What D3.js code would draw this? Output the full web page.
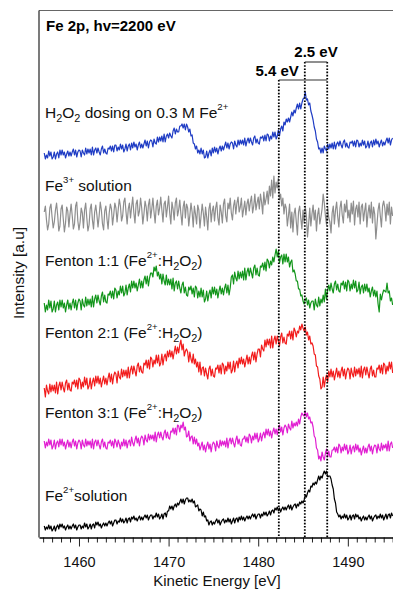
<!DOCTYPE html>
<html>
<head>
<meta charset="utf-8">
<script src="https://cdn.jsdelivr.net/npm/d3@7"></script>
<style>
  html, body { margin: 0; padding: 0; background: #fff; }
  svg { display: block; }
  text { font-family: Arial, "Liberation Sans", Helvetica, sans-serif; white-space: pre; }
</style>
</head>
<body>
<svg id="chart" width="393" height="589"></svg>
<script>
// Fe 2p spectra, kinetic-energy grid (eV), sampled every 0.125 eV from 1456.125 to 1495.0
const energyStart = 1456.125;
const energyStep = 0.125;

// Intensities (a.u.) of each trace, relative to its own stacking offset (8 samples per eV)
const seriesH2O2 = [
  3,-3,1,-2,5,0,4,-3, -1,4,-3,2,4,-2,6,1, 6,1,4,-2,2,5,0,4, 0,4,7,1,6,-1,4,6,
  5,-1,6,3,1,8,2,7, 3,7,1,9,1,6,8,3, 8,4,1,7,10,3,7,3, 2,8,7,10,5,10,4,11,
  11,5,9,6,12,7,11,4, 7,12,5,10,12,6,13,8, 14,9,12,6,11,14,8,12, 8,12,16,10,15,8,14,16,
  15,9,17,13,12,19,14,19, 15,20,14,22,14,20,22,18, 23,20,18,25,28,22,27,24, 24,30,30,32,28,32,26,32,
  29,24,27,20,21,13,12,7, 10,3,6,2,8,2,6,-2, -1,5,-2,3,6,0,8,3, 9,4,8,2,7,10,5,10,
  6,10,14,8,13,7,12,14, 13,7,15,11,9,16,11,16, 12,16,11,18,10,15,18,13, 18,14,11,18,20,13,17,13,
  12,19,18,20,15,21,15,22, 21,15,20,17,24,19,24,17, 20,26,20,27,30,25,34,31, 37,34,38,34,39,44,40,46,
  43,48,52,47,53,47,53,57, 58,64,56,57,51,53,45,41, 36,29,25,17,14,7,8,3, 8,3,10,7,5,12,7,12,
  8,13,7,14,7,12,14,10, 15,11,8,14,16,9,13,9, 8,14,13,15,10,15,9,16, 15,9,13,10,16,11,15,8,
  10,15,8,13,15,9,16,11, 17,12,15,9,13,16,10,14, 11,15,18,13,18,11,16,18];

const seriesFe3 = [
  6,12,-2,-12,-6,10,14,1, -10,-4,8,15,3,-13,-8,9, 13,-1,-14,-5,11,7,-9,4, 14,2,-11,-6,12,16,-3,-12,
  -4,10,5,-10,8,15,0,-13, -7,9,14,-2,-11,6,13,3, -9,2,16,8,-6,-12,7,12, -1,-11,5,14,9,-7,3,15,
  10,-4,8,19,12,-3,2,16, 20,6,-6,9,15,0,11,21, 5,-5,14,18,2,7,20,10, -6,4,17,11,-3,13,19,0,
  9,20,6,-5,12,18,3,10, 21,8,-4,14,17,1,11,22, 5,-6,16,9,-2,15,20,2, 8,18,4,-7,11,17,0,14,
  10,-8,3,15,6,-9,12,4, -6,13,8,-10,2,14,5,-8, 11,1,-12,9,15,-4,7,12, -3,10,16,0,-7,13,6,-5,
  14,19,2,-4,15,9,20,5, -2,12,18,4,15,21,6,11, 20,1,9,17,3,14,19,7, 16,22,5,12,24,8,15,21,
  9,24,16,4,26,13,19,27, 14,32,22,38,20,42,25,36, 30,40,18,24,12,20,4,14, 10,-8,2,14,-10,6,-14,4,
  10,-4,-17,6,12,0,-11,8, -5,12,2,-19,-6,10,-8,4, 13,-2,8,-13,3,10,-6,1, 9,24,15,2,-7,11,0,-4,
  -15,5,12,-6,8,16,1,-9, 10,17,3,-5,14,6,18,0, 8,-4,15,4,17,-7,9,13, 1,16,-6,11,14,-3,7,15,
  -9,5,13,0,16,-5,11,4, -21,-7,8,15,2,-9,12,17, 10,-3,14,3,16,-6,11,2];

const seriesFenton11 = [
  3,-6,1,-4,6,-2,5,-6, -3,5,-6,1,4,-4,6,-1, 6,-2,3,-6,1,6,-3,3, -4,3,7,-2,6,-4,3,7,
  5,-4,7,1,-1,9,0,7, 1,7,-1,10,-1,7,11,3, 11,5,1,10,14,4,11,4, 3,12,11,15,8,15,7,18,
  16,8,15,11,20,13,20,10, 13,21,11,18,22,14,25,18, 25,18,23,15,21,27,18,25, 18,26,30,22,30,20,28,33,
  33,29,39,35,40,30,34,27, 32,22,32,25,21,31,21,27, 21,27,17,28,15,23,25,17, 25,18,13,21,24,13,19,11,
  10,19,16,20,12,18,9,20, 18,8,15,9,18,9,16,4, 7,15,5,12,16,8,19,12, 19,11,17,8,15,20,12,18,
  11,18,22,13,21,11,18,29, 31,22,34,28,25,35,27,34, 28,35,26,38,26,34,38,30, 38,33,28,38,41,31,38,31,
  30,40,39,43,36,44,35,47, 45,38,45,41,49,44,51,57, 49,55,43,49,51,42,52,44, 52,44,49,39,44,46,34,36,
  32,25,25,17,17,10,11,5, 2,6,8,1,6,-2,3,5, 5,-4,7,1,-1,9,0,7, 3,11,4,17,7,16,21,15,
  23,17,13,22,25,16,22,15, 14,23,21,25,17,24,15,26, 24,15,22,17,26,18,25,14, 16,24,12,19,21,13,22,15,
  22,14,18,9,15,19,10,16, 9,15,2,-6,12,6,12,16, 15,14,23,13,15,5,8,1];

const seriesFenton21 = [
  2,-7,5,-1,-4,6,-2,5, -1,5,-3,8,-4,4,8,0, 8,2,-2,7,10,0,7,0, -1,8,6,10,3,10,1,12,
  10,1,8,3,13,5,12,1, 4,12,1,8,12,4,14,7, 14,6,12,3,9,14,6,12, 5,12,17,8,16,6,14,18,
  16,7,19,13,11,21,13,20, 14,20,12,23,12,20,24,16, 24,19,14,24,27,18,24,18, 17,27,25,30,22,30,21,33,
  31,23,30,26,35,27,35,24, 27,36,25,33,36,29,39,33, 40,33,39,31,38,44,36,43, 37,45,50,40,46,34,39,41,
  38,28,38,31,27,36,26,31, 23,28,18,28,15,22,23,14, 22,16,11,21,24,14,21,14, 13,22,21,25,17,25,16,27,
  25,16,24,19,28,21,28,17, 20,29,18,26,29,22,32,26, 33,26,31,23,29,35,26,33, 26,34,38,30,38,28,36,41,
  41,33,45,41,39,50,43,51, 45,51,42,54,42,50,54,46, 54,49,44,53,57,47,53,47, 46,56,54,59,51,59,50,62,
  59,53,59,57,64,60,66,62, 59,63,55,58,50,54,46,47, 44,36,35,24,23,14,11,1, 3,13,3,11,15,8,19,13,
  21,13,19,10,16,22,13,19, 12,19,23,14,21,11,18,22, 20,11,22,16,13,23,14,21, 16,22,13,24,12,20,23,15,
  23,17,12,21,24,14,20,13, 13,22,21,25,17,25,16,27, 25,16,24,19,28,21,28,17];

const seriesFenton31 = [
  3,-4,2,-2,5,-1,4,-5, -2,4,-5,1,3,-3,5,-1, 5,-2,2,-5,0,4,-3,2, -4,2,5,-2,3,-5,1,4,
  2,-5,4,-1,-3,5,-2,3, -1,3,-4,5,-5,2,4,-2, 4,-1,-5,2,5,-3,2,-4, -5,2,1,4,-2,3,-4,5,
  2,-3,4,0,-5,2,-2,5, -2,4,-4,2,4,-2,7,1, -2,4,8,1,6,-2,5,8, 6,-1,9,4,2,10,4,9,
  5,9,3,12,2,9,12,6, 12,7,4,11,14,6,12,6, 5,13,12,16,10,16,9,19, 18,12,19,16,22,14,17,7,
  8,13,3,7,8,0,7,0, 5,-2,1,-6,-2,2,-6,-1, -8,-2,2,-5,0,-8,-1,2, 0,-7,3,-2,-4,4,-2,3,
  -1,3,-3,6,-4,3,6,0, 6,1,-3,4,8,0,5,-1, -2,5,5,8,2,7,1,10, 8,1,8,4,11,5,11,2,
  5,11,3,9,12,6,15,9, 15,8,13,6,12,16,10,15, 9,15,19,12,17,9,16,19, 17,11,20,16,14,23,16,21,
  18,22,18,25,20,27,31,29, 28,33,27,31,25,27,21,22, 17,8,6,-4,-6,-15,-12,-17, -8,-13,-16,-9,-5,-13,-7,-13,
  -13,-6,-6,-3,-8,-3,-9,0, -2,-9,-3,-7,0,-6,-1,-10, -7,-1,-10,-4,-2,-8,0,-6, -1,-8,-4,-11,-6,-2,-9,-4,
  -9,-3,0,-7,-2,-10,-4,-1, -2,-9,0,-5,-7,1,-6,-1, -4,0,-7,3,-7,0,2,-4];

const seriesFe2 = [
  2,-2,1,-1,3,-1,2,-3, -1,2,-3,1,3,-1,4,1, 4,0,2,-2,1,3,-1,2, -1,2,4,0,3,-2,1,3,
  3,-1,2,0,5,1,4,-1, 1,4,-1,3,4,0,6,3, 6,2,4,0,3,5,2,5, 2,5,7,4,7,2,5,8,
  8,4,7,6,10,6,9,5, 7,10,5,9,10,6,11,9, 12,8,10,7,10,12,8,11, 8,11,13,10,13,8,11,13,
  13,9,12,11,15,11,14,9, 11,14,9,14,15,11,17,17, 22,19,22,18,22,24,21,25, 23,26,29,25,29,24,28,30,
  30,26,28,26,29,25,27,21, 22,23,17,19,18,12,16,11, 12,7,8,3,6,7,3,6, 4,7,9,5,8,3,6,8,
  9,5,8,6,10,6,9,4, 7,10,5,9,10,6,11,8, 12,8,11,7,10,12,9,12, 9,12,14,11,14,9,12,14,
  14,10,14,12,16,13,16,12, 14,17,13,17,18,15,20,18, 21,17,20,16,19,21,18,21, 18,21,23,19,23,18,21,23,
  24,20,24,22,26,24,27,25, 28,33,31,35,38,36,42,41, 45,43,46,44,48,52,48,52, 50,54,57,54,57,51,52,52,
  49,43,39,29,25,16,14,11, 13,9,12,10,14,10,13,8, 10,13,8,12,13,9,14,11, 13,9,11,7,10,12,8,11,
  8,11,13,9,12,7,10,12, 13,9,12,10,14,10,13,8, 11,14,9,13,14,10,15,12];

// Stacking offsets (a.u.) and trace names, top to bottom
const traceOffsets = [381.5, 319.5, 231.5, 147.5, 93.5, 9.5];
const traceLabels = [
  "H_{2}O_{2} dosing on 0.3 M Fe^{2+}",
  "Fe^{3+} solution",
  "Fenton 1:1 (Fe^{2+}:H_{2}O_{2})",
  "Fenton 2:1 (Fe^{2+}:H_{2}O_{2})",
  "Fenton 3:1 (Fe^{2+}:H_{2}O_{2})",
  "Fe^{2+}solution"
];
const traces = [seriesH2O2, seriesFe3, seriesFenton11, seriesFenton21, seriesFenton31, seriesFe2];

// Reference peak of the Fe2+ solution and the two shifts marked on the plot (eV)
const fe2Peak = 1487.7;
const shifts = [2.5, 5.4];
const shiftLabels = ["2.5 eV", "5.4 eV"];

const majorTicks = [1460, 1470, 1480, 1490];
const minorTicks = d3.range(1456, 1496).filter(v => !majorTicks.includes(v));

// ---- layout ----
const colors = ["#1f3cc4", "#8e8e8e", "#12951a", "#f21c1c", "#e11fd2", "#000000"];
const labelBaselines = [118, 191, 266, 338, 418, 501];
const plot = { left: 39, right: 393, top: 10.5, bottom: 537.5 };

const svg = d3.select("#chart");
const x = d3.scaleLinear().domain([1455.54, 1495.04]).range([plot.left, plot.right]);
const y = d3.scaleLinear().domain([0, 527]).range([plot.bottom, plot.top]);

// frame: left spine and top edge
svg.append("line").attr("x1", plot.left).attr("x2", plot.right + 5)
  .attr("y1", plot.top).attr("y2", plot.top).attr("stroke", "#666").attr("stroke-width", 1.2);
svg.append("line").attr("x1", plot.left).attr("x2", plot.left)
  .attr("y1", plot.top).attr("y2", plot.bottom).attr("stroke", "#333").attr("stroke-width", 1.3);

// traces
traces.forEach((vals, k) => {
  const line = d3.line()
    .x((d, i) => x(energyStart + energyStep * i))
    .y(d => y(d + traceOffsets[k]));
  svg.append("path").datum(vals)
    .attr("d", line)
    .attr("fill", "none")
    .attr("stroke", colors[k])
    .attr("stroke-width", 1.2)
    .attr("stroke-linejoin", "round");
});

// rich text with sub/superscripts: _{..} and ^{..}
function richText(sel, str) {
  const parts = str.match(/\^\{[^}]*\}|_\{[^}]*\}|[^\^_]+/g);
  let shift = 0;
  parts.forEach(p => {
    let t = p, target = 0, size = null;
    if (p[0] === "^") { t = p.slice(2, -1); target = -8; size = "0.62em"; }
    else if (p[0] === "_") { t = p.slice(2, -1); target = 3.5; size = "0.7em"; }
    const ts = sel.append("tspan").text(t);
    if (target - shift !== 0) ts.attr("dy", target - shift);
    if (size) ts.attr("font-size", size);
    shift = target;
  });
}

traceLabels.forEach((lab, k) => {
  const t = svg.append("text").attr("x", 45).attr("y", labelBaselines[k])
    .attr("font-size", 15.5).attr("fill", "#111");
  richText(t, lab);
});

// shift markers: dotted verticals + brackets
const bracketY = [62, 80];
const markers = [
  { e: fe2Peak, top: bracketY[0] },
  { e: fe2Peak - shifts[0], top: bracketY[0] },
  { e: fe2Peak - shifts[1], top: bracketY[1] }
];
markers.forEach(m => {
  svg.append("line").attr("x1", x(m.e)).attr("x2", x(m.e))
    .attr("y1", m.top).attr("y2", plot.bottom)
    .attr("stroke", "#000").attr("stroke-width", 1.8).attr("stroke-dasharray", "1.6,1.6");
});
shifts.forEach((s, k) => {
  svg.append("line").attr("x1", x(fe2Peak - s)).attr("x2", x(fe2Peak))
    .attr("y1", bracketY[k]).attr("y2", bracketY[k])
    .attr("stroke", "#333").attr("stroke-width", 1.1);
});
svg.append("text").attr("x", (x(fe2Peak) + x(fe2Peak - shifts[0])) / 2).attr("y", 57)
  .attr("text-anchor", "middle").attr("font-size", 15).attr("font-weight", "bold").text(shiftLabels[0]);
svg.append("text").attr("x", x(fe2Peak - shifts[1]) + 20).attr("y", 76)
  .attr("text-anchor", "end").attr("font-size", 15).attr("font-weight", "bold").text(shiftLabels[1]);

// title
svg.append("text").attr("x", 46).attr("y", 31).attr("font-size", 15).attr("font-weight", "bold")
  .text("Fe 2p, hv=2200 eV");

// bottom axis: minor and major ticks
const gMinor = svg.append("g").attr("transform", `translate(0,${plot.bottom})`)
  .call(d3.axisBottom(x).tickValues(minorTicks).tickSize(5).tickSizeOuter(0).tickFormat(""));
gMinor.select(".domain").remove();
const gMajor = svg.append("g").attr("transform", `translate(0,${plot.bottom})`)
  .call(d3.axisBottom(x).tickValues(majorTicks).tickSize(9).tickSizeOuter(0).tickPadding(10).tickFormat(d3.format("d")));
gMajor.select(".domain").attr("stroke-width", 1.3);
svg.selectAll(".tick line").attr("stroke", "#222");
gMajor.selectAll("text").attr("font-size", 14.5).attr("fill", "#111")
  .attr("font-family", "Arial, 'Liberation Sans', sans-serif");

// axis titles
svg.append("text").attr("x", 217).attr("y", 586).attr("text-anchor", "middle")
  .attr("font-size", 15).attr("fill", "#111").text("Kinetic Energy [eV]");
svg.append("text").attr("transform", "translate(24,273) rotate(-90)").attr("text-anchor", "middle")
  .attr("font-size", 15.5).attr("fill", "#111").text("Intensity [a.u]");
</script>
</body>
</html>
